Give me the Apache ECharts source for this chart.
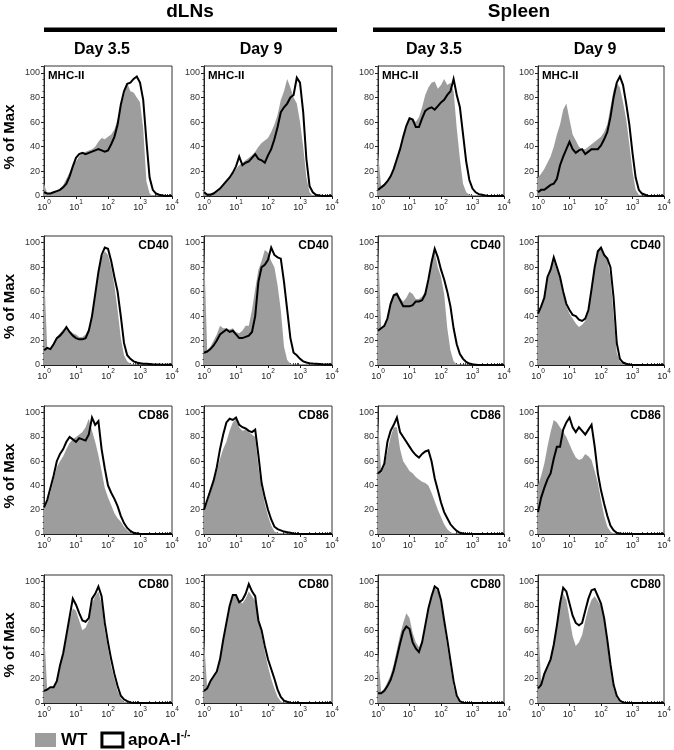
<!DOCTYPE html>
<html>
<head>
<meta charset="utf-8">
<script src="https://cdn.jsdelivr.net/npm/echarts@6/dist/echarts.min.js"></script>
<style>html,body{margin:0;padding:0;background:#fff}#c{width:674px;height:750px}</style>
</head>
<body>
<div id="c"></div>
<script>
// ---------- DATA ----------
// x bins in decades (log10 of fluorescence), 10^0 .. 10^4
const binExp = [0,0.1,0.2,0.3,0.4,0.5,0.6,0.7,0.8,0.9,1.0,1.1,1.2,1.3,1.4,1.5,1.6,1.7,1.8,1.9,2.0,2.1,2.2,2.3,2.4,2.5,2.6,2.7,2.8,2.9,3.0,3.1,3.2,3.3,3.4,3.5,3.6,3.7,3.8,3.9,4.0];
const xTickExponents = [0,1,2,3,4];
const yTickValues = [0,20,40,60,80,100];
const tissues = ['dLNs','Spleen'];
const days = ['Day 3.5','Day 9','Day 3.5','Day 9'];
const markers = ['MHC-II','CD40','CD86','CD80'];
const seriesNames = ['WT','apoA-I-/-'];

// MHC-II
const dLN35_MHC_WT = [10,2,2,3,4,6,9,14,19,25,28,32,35,36,37,38,40,44,47,46,48,50,54,62,72,82,92,85,84,80,76,55,12,2,0,0,0,0,0,0,0];
const dLN35_MHC_KO = [3,2,2,3,4,5,7,10,16,24,31,34,35,34,35,36,37,38,37,36,37,42,48,58,74,85,91,92,95,97,92,78,45,15,5,2,1,0.5,0,0,0];
const dLN9_MHC_WT  = [5,2,2,3,4,7,10,13,15,18,22,25,27,29,31,33,36,40,43,45,47,52,58,66,78,85,95,88,80,75,60,40,15,3,0,0,0,0,0,0,0];
const dLN9_MHC_KO  = [3,1,1,2,4,6,9,12,15,19,24,32,25,27,28,31,34,30,29,27,33,38,46,56,68,72,75,80,82,96,92,68,30,8,3,1,0.5,0,0,0,0];
const spl35_MHC_WT = [36,7,10,13,17,22,30,38,47,55,64,63,60,64,72,82,88,92,93,87,90,95,90,92,85,55,30,10,3,1,0,0,0,0,0,0,0,0,0,0,0];
const spl35_MHC_KO = [5,7,9,12,16,22,30,38,48,57,63,62,56,56,63,69,71,72,70,73,76,78,82,85,95,82,72,50,28,13,6,3,1.5,1,0.5,0,0,0,0,0,0];
const spl9_MHC_WT  = [15,18,22,27,32,40,50,58,70,75,62,50,45,40,38,38,40,42,44,46,48,52,58,72,86,92,88,76,62,42,20,5,1,0,0,0,0,0,0,0,0];
const spl9_MHC_KO  = [3,5,5,7,9,10,14,25,32,38,44,38,35,37,38,34,36,38,38,38,41,46,52,64,80,92,97,90,75,58,35,15,5,2,1,0,0,0,0,0,0];
// CD40
const dLN35_CD40_WT = [78,14,14,18,23,26,29,30,28,26,25,23,23,25,30,42,58,74,88,93,90,80,65,45,22,8,3,1,0.5,0,0,0,0,0,0,0,0,0,0,0,0];
const dLN35_CD40_KO = [12,14,13,17,22,24,27,31,27,24,22,21,21,22,28,40,58,76,90,96,95,85,72,60,40,18,8,5,3,2,1.5,1,1,0.8,0.6,0.5,0.4,0.3,0.3,0.2,0.2];
const dLN9_CD40_WT  = [97,12,15,20,25,32,30,30,29,30,27,26,28,32,32,45,62,78,85,94,92,85,80,65,45,15,4,1,0,0,0,0,0,0,0,0,0,0,0,0,0];
const dLN9_CD40_KO  = [10,11,13,16,20,25,27,29,27,28,25,22,22,23,24,27,40,68,80,82,86,96,90,88,87,68,45,22,10,8,5,3,2,1.5,1.2,1,0.8,0.6,0.5,0.4,0.3];
const spl35_CD40_WT = [100,30,32,40,52,58,60,55,52,55,60,58,54,54,56,60,70,84,92,80,72,58,30,12,3,0.5,0,0,0,0,0,0,0,0,0,0,0,0,0,0,0];
const spl35_CD40_KO = [28,30,32,38,50,57,58,53,48,48,48,49,52,52,53,58,70,84,95,88,78,70,60,48,30,17,9,5,2.5,1.2,0.6,0.3,0,0,0,0,0,0,0,0,0];
const spl9_CD40_WT  = [44,48,58,72,78,85,78,70,58,48,42,38,34,31,33,36,44,62,82,94,95,90,86,72,40,10,3,1,0,0,0,0,0,0,0,0,0,0,0,0,0];
const spl9_CD40_KO  = [42,48,55,72,78,88,80,72,60,50,45,41,40,37,36,38,45,62,80,93,96,90,87,80,55,18,5,2,1,0.5,0,0,0,0,0,0,0,0,0,0,0];
// CD86
const dLN35_CD86_WT = [22,27,34,45,55,60,64,70,75,78,80,82,84,88,95,85,76,65,52,38,30,24,17,13,10,6,3,1,0,0,0,0,0,0,0,0,0,0,0,0,0];
const dLN35_CD86_KO = [22,28,38,48,60,66,70,76,80,78,76,79,78,77,82,96,90,93,70,54,40,34,29,23,15,9,5,2.5,1,0.5,0,0,0,0,0,0,0,0,0,0,0];
const dLN9_CD86_WT  = [20,26,34,42,52,62,70,76,85,92,95,88,85,86,84,82,80,55,38,25,15,7,2,1,0,0,0,0,0,0,0,0,0,0,0,0,0,0,0,0,0];
const dLN9_CD86_KO  = [20,28,36,44,55,70,82,92,95,94,96,90,88,87,85,84,86,65,42,30,20,12,6,4,3,2,1.5,1,0.5,0,0,0,0,0,0,0,0,0,0,0,0];
const spl35_CD86_WT = [95,50,56,68,80,88,88,70,60,56,52,50,47,45,43,42,40,34,27,20,14,8,4,1.5,0.5,0,0,0,0,0,0,0,0,0,0,0,0,0,0,0,0];
const spl35_CD86_KO = [50,52,58,76,85,90,96,84,80,76,72,68,65,63,66,68,69,60,46,36,26,18,13,8,5,2.5,1,0.5,0,0,0,0,0,0,0,0,0,0,0,0,0];
const spl9_CD86_WT  = [40,48,58,72,84,94,92,88,84,80,74,68,63,61,62,66,64,61,52,42,28,15,6,2,0.5,0,0,0,0,0,0,0,0,0,0,0,0,0,0,0,0];
const spl9_CD86_KO  = [18,30,38,45,50,62,72,72,86,92,96,88,84,88,85,82,86,90,72,50,36,25,15,7,3,1,0.5,0,0,0,0,0,0,0,0,0,0,0,0,0,0];
// CD80
const dLN35_CD80_WT = [62,10,12,14,18,30,40,54,68,78,76,68,60,62,68,82,88,92,82,60,45,30,20,10,4,1,0,0,0,0,0,0,0,0,0,0,0,0,0,0,0];
const dLN35_CD80_KO = [10,11,13,13,18,31,41,56,71,86,81,74,68,67,70,86,90,96,88,66,50,36,24,14,6,3,1.5,0.5,0,0,0,0,0,0,0,0,0,0,0,0,0];
const dLN9_CD80_WT  = [53,12,17,21,26,36,50,64,78,88,90,85,82,86,92,88,84,70,56,42,30,20,12,5,1.5,0.3,0,0,0,0,0,0,0,0,0,0,0,0,0,0,0];
const dLN9_CD80_KO  = [10,12,18,22,26,36,52,66,80,89,89,83,85,90,98,92,88,68,60,47,36,28,20,11,5,2,1,0.3,0,0,0,0,0,0,0,0,0,0,0,0,0];
const spl35_CD80_WT = [42,9,12,17,23,32,44,56,66,74,70,58,50,46,52,64,78,88,95,92,82,64,46,30,13,4,1,0,0,0,0,0,0,0,0,0,0,0,0,0,0];
const spl35_CD80_KO = [8,8,10,14,19,27,38,49,59,63,61,50,45,42,50,64,78,88,96,94,85,68,52,35,18,6,1.5,0.3,0,0,0,0,0,0,0,0,0,0,0,0,0];
const spl9_CD80_WT  = [70,15,24,30,36,47,62,80,90,85,70,55,47,50,56,68,78,85,88,84,80,68,48,28,12,4,1,0,0,0,0,0,0,0,0,0,0,0,0,0,0];
const spl9_CD80_KO  = [12,15,24,30,36,48,64,82,95,92,82,72,66,64,66,76,86,93,94,88,82,70,52,32,15,6,2,0.5,0,0,0,0,0,0,0,0,0,0,0,0,0];

// panel table: [row][col] -> [WT, apoA-I-/-]
const panelData = [
  [[dLN35_MHC_WT, dLN35_MHC_KO], [dLN9_MHC_WT, dLN9_MHC_KO], [spl35_MHC_WT, spl35_MHC_KO], [spl9_MHC_WT, spl9_MHC_KO]],
  [[dLN35_CD40_WT, dLN35_CD40_KO], [dLN9_CD40_WT, dLN9_CD40_KO], [spl35_CD40_WT, spl35_CD40_KO], [spl9_CD40_WT, spl9_CD40_KO]],
  [[dLN35_CD86_WT, dLN35_CD86_KO], [dLN9_CD86_WT, dLN9_CD86_KO], [spl35_CD86_WT, spl35_CD86_KO], [spl9_CD86_WT, spl9_CD86_KO]],
  [[dLN35_CD80_WT, dLN35_CD80_KO], [dLN9_CD80_WT, dLN9_CD80_KO], [spl35_CD80_WT, spl35_CD80_KO], [spl9_CD80_WT, spl9_CD80_KO]]
];

// ---------- LAYOUT ----------
const F = 'Liberation Sans, Arial, Helvetica, sans-serif';
const colLeft = [44, 204, 378, 538];
const colWidth = [128, 128, 126, 126];
const rowTop = [66, 236, 406, 575];
const rowHeight = [130, 129, 128, 128];
const GRAY = '#9d9d9d';

// log minor tick positions (2..9 within each decade)
const minorTickExp = [];
for (let d = 0; d < 4; d++) for (let k = 2; k <= 9; k++) minorTickExp.push(d + Math.log10(k));

const grid = [], xAxis = [], yAxis = [], series = [], graphic = [];

for (let r = 0; r < 4; r++) {
  for (let c = 0; c < 4; c++) {
    const g = r * 4 + c;
    grid.push({left: colLeft[c], top: rowTop[r], width: colWidth[c], height: rowHeight[r],
      show: true, borderColor: '#333', borderWidth: 1, backgroundColor: 'transparent', containLabel: false});
    xAxis.push({gridIndex: g, type: 'value', min: 0, max: 4, interval: 1, position: 'bottom',
      axisLine: {show: true, onZero: false, lineStyle: {color: '#222', width: 1}},
      axisTick: {show: true, length: 3, lineStyle: {color: '#222', width: 1}},
      splitLine: {show: false},
      axisLabel: {show: true, margin: 3, color: '#222',
        formatter: v => '{b|10}{s|' + xTickExponents[Math.round(v)] + '}',
        rich: {
          b: {fontSize: 9, fontFamily: F, color: '#222', lineHeight: 13, verticalAlign: 'bottom'},
          s: {fontSize: 6.5, fontFamily: F, color: '#222', lineHeight: 8, verticalAlign: 'top'}
        }}
    });
    xAxis.push({gridIndex: g, type: 'value', min: 0, max: 4, position: 'bottom',
      axisLine: {show: false, onZero: false}, axisLabel: {show: false}, splitLine: {show: false},
      axisTick: {show: true, inside: true, length: 2, customValues: minorTickExp, lineStyle: {color: '#444', width: 1}}
    });
    yAxis.push({gridIndex: g, type: 'value', min: 0, max: 105.5, interval: 20,
      axisLine: {show: true, onZero: false, lineStyle: {color: '#222', width: 1}},
      axisTick: {show: true, length: 3, lineStyle: {color: '#222'}},
      minorTick: {show: true, splitNumber: 4, length: 1.5, lineStyle: {color: '#444'}},
      splitLine: {show: false}, minorSplitLine: {show: false},
      axisLabel: {show: true, fontSize: 9, fontFamily: F, color: '#333', margin: 4, showMaxLabel: false,
        formatter: v => (yTickValues.indexOf(v) >= 0 ? String(v) : '')}
    });
    const [wt, ko] = panelData[r][c];
    series.push({type: 'line', name: seriesNames[0], xAxisIndex: 2 * g, yAxisIndex: g,
      data: binExp.map((x, i) => [x, wt[i]]), symbol: 'none', showSymbol: false, silent: true,
      color: GRAY, itemStyle: {color: GRAY}, lineStyle: {width: 0, color: GRAY},
      areaStyle: {color: GRAY, opacity: 1}, z: 2, animation: false});
    series.push({type: 'line', name: seriesNames[1], xAxisIndex: 2 * g, yAxisIndex: g,
      data: binExp.map((x, i) => [x, ko[i]]), symbol: 'none', showSymbol: false, silent: true,
      color: '#000', itemStyle: {color: '#000'}, lineStyle: {width: 2, color: '#000', join: 'miter'},
      z: 3, animation: false});
    // marker label
    const right = r > 0;
    graphic.push({type: 'text', z: 10,
      x: right ? colLeft[c] + colWidth[c] - 3 : colLeft[c] + 4,
      y: rowTop[r] + 10,
      style: {text: markers[r], fill: '#000', fontSize: right ? 12 : 11.5, fontWeight: 'bold', fontFamily: F,
        align: right ? 'right' : 'left', textAlign: right ? 'right' : 'left',
        verticalAlign: 'middle', textVerticalAlign: 'middle'}});
  }
  // y title
  graphic.push({type: 'text', x: 10, y: rowTop[r] + rowHeight[r] / 2 + 6, rotation: Math.PI / 2,
    style: {text: '% of Max', fill: '#000', fontSize: 15, fontWeight: 'bold', fontFamily: F,
      align: 'center', textAlign: 'center', verticalAlign: 'middle', textVerticalAlign: 'middle'}});
}

// headers
const tissueCenter = [190, 519];
const tissueBar = [[44, 293], [373, 292]];
tissues.forEach((t, i) => {
  graphic.push({type: 'text', x: tissueCenter[i], y: 12,
    style: {text: t, fill: '#000', fontSize: 19, fontWeight: 'bold', fontFamily: F,
      align: 'center', textAlign: 'center', verticalAlign: 'middle', textVerticalAlign: 'middle'}});
  graphic.push({type: 'rect', shape: {x: tissueBar[i][0], y: 27.5, width: tissueBar[i][1], height: 4.5},
    style: {fill: '#000'}});
});
const dayCenter = [102, 261, 434, 595];
days.forEach((d, i) => {
  graphic.push({type: 'text', x: dayCenter[i], y: 50,
    style: {text: d, fill: '#000', fontSize: 16, fontWeight: 'bold', fontFamily: F,
      align: 'center', textAlign: 'center', verticalAlign: 'middle', textVerticalAlign: 'middle'}});
});

const option = {
  animation: false,
  backgroundColor: '#fff',
  grid, xAxis, yAxis, series, graphic,
  legend: {
    left: 35, top: 730, orient: 'horizontal', itemWidth: 21, itemHeight: 14, itemGap: 13,
    padding: 0, selectedMode: false,
    data: [
      {name: seriesNames[0], icon: 'rect', itemStyle: {color: GRAY, borderWidth: 0}},
      {name: seriesNames[1], icon: 'rect', itemStyle: {color: '#fff', borderColor: '#000', borderWidth: 3}}
    ],
    formatter: n => n === 'WT' ? 'WT' : 'apoA-I{s|-/-}',
    textStyle: {fontSize: 17, fontWeight: 'bold', color: '#000', fontFamily: F, lineHeight: 20,
      rich: {s: {fontSize: 10, fontWeight: 'bold', color: '#000', fontFamily: F, verticalAlign: 'top', lineHeight: 10}}}
  }
};

const chart = echarts.init(document.getElementById('c'), null, {renderer: 'canvas', width: 674, height: 750});
chart.setOption(option);
</script>
</body>
</html>
